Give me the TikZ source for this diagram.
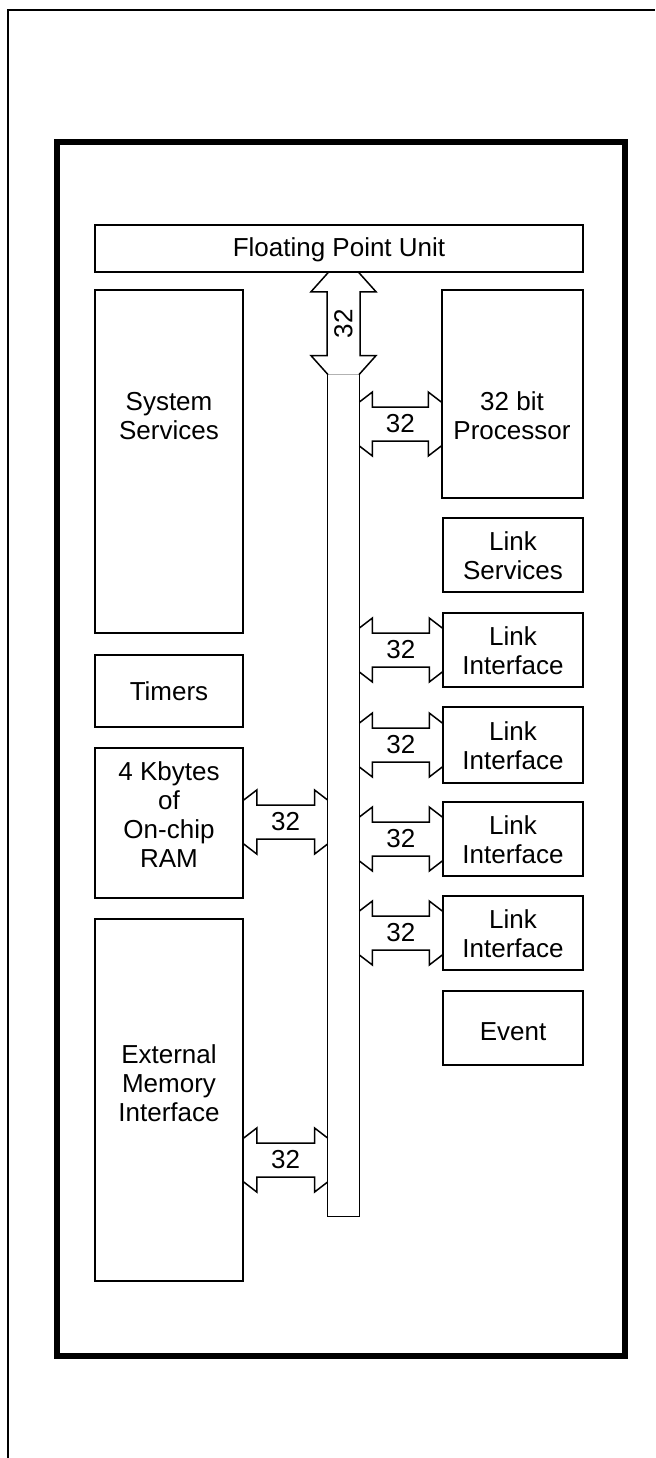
\documentclass[tikz,border=0pt]{standalone}
\usepackage{fontspec}
\setmainfont{Liberation Sans}
\usetikzlibrary{calc}
\tikzset{
  bxs/.style={draw, line width=0.75pt, inner sep=0pt, rectangle},
  txt/.style={inner sep=0pt, align=center, font=\fontsize{13}{14.5}\selectfont},
  arr/.style={draw, line width=0.75pt, line join=miter},
  lbl/.style={inner sep=0pt, font=\fontsize{13}{14.5}\selectfont},
}
% box: name, x1, y1, x2, y2  (pixel units, y downward)
\newcommand\bx[5]{\node[bxs, minimum width={(#4-#2)*0.5pt}, minimum height={(#5-#3)*0.5pt}] (#1) at ({(#2+#4)/2},{(#3+#5)/2}) {};}
% horizontal double block arrow: left node, right node, centre y, name
\newcommand\harr[4]{%
  \coordinate (#4c) at (0,#3);
  \coordinate (#4l) at (#1.east |- #4c);
  \coordinate (#4r) at (#2.west |- #4c);
  \draw[arr] ($(#4l)+(0,-22)$) -- ($(#4l)+(13,-32)$) -- ($(#4l)+(13,-17)$) -- ($(#4r)+(-13,-17)$) -- ($(#4r)+(-13,-32)$) -- ($(#4r)+(0,-22)$);
  \draw[arr] ($(#4l)+(0,22)$) -- ($(#4l)+(13,32)$) -- ($(#4l)+(13,17)$) -- ($(#4r)+(-13,17)$) -- ($(#4r)+(-13,32)$) -- ($(#4r)+(0,22)$);
  \node[lbl] (#4t) at ($(#4l)!0.5!(#4r)$) {32};
}
\begin{document}
\begin{tikzpicture}[x=0.5pt,y=-0.5pt]
\useasboundingbox (0,0) rectangle (655,1458);
% page frame
\coordinate (pgbl) at (8,1458);
\coordinate (pgtl) at (8,10);
\coordinate (pgtr) at (655,10);
\draw[line width=1pt] (pgbl) -- (pgtl) -- (pgtr);
% chip frame
\node[draw, line width=3pt, inner sep=0pt, minimum width={(625-57)*0.5pt}, minimum height={(1356-142)*0.5pt}] (chip) at ({(57+625)/2},{(142+1356)/2}) {};
% boxes
\bx{fpu}{95}{225}{583}{272}
\bx{ss}{95}{290}{243}{633}
\bx{proc}{442}{290}{583}{498}
\bx{ls}{443}{518}{583}{592}
\bx{lia}{443}{613}{583}{687}
\bx{lib}{443}{707}{583}{783}
\bx{lic}{443}{802}{583}{876}
\bx{lid}{443}{896}{583}{970}
\bx{ev}{443}{991}{583}{1065}
\bx{tim}{95}{655}{243}{727}
\bx{ram}{95}{748}{243}{898}
\bx{emi}{95}{919}{243}{1281}
% bus
\node[inner sep=0pt, minimum width={31*0.5pt}, minimum height={(1216-375)*0.5pt}] (bus) at ({(328+359)/2},{(375+1216)/2}) {};
\draw[line width=0.75pt] (bus.north west) -- (bus.south west) -- (bus.south east) -- (bus.north east);
\draw[line width=0.4pt, gray!60] (bus.north west) -- (bus.north east);
% texts
\node[txt] (tfpu) at (339,250) {Floating Point Unit};
\node[txt] (tss) at (169,416) {System\\Services};
\node[txt] (tproc) at (512,416) {32 bit\\Processor};
\node[txt] (tls) at (513,556) {Link\\Services};
\node[txt] (tlia) at (513,651) {Link\\Interface};
\node[txt] (tlib) at (513,746) {Link\\Interface};
\node[txt] (tlic) at (513,840) {Link\\Interface};
\node[txt] (tlid) at (513,934) {Link\\Interface};
\node[txt] (tev) at (513,1032) {Event};
\node[txt] (ttim) at (169,691) {Timers};
\node[txt] (tram) at (169,815) {4 Kbytes\\of\\On-chip\\RAM};
\node[txt] (temi) at (169,1083) {External\\Memory\\Interface};
% vertical arrow FPU <-> bus
\coordinate (vt) at (bus.north |- fpu.south);
\coordinate (vb) at (bus.north);
\draw[arr] ($(vt)+(-15.5,0)$) -- ($(vt)+(-32.5,19)$) -- ($(vt)+(-16.5,19)$) -- ($(vb)+(-16.5,-19)$) -- ($(vb)+(-32.5,-19)$) -- ($(vb)+(-15.5,0)$);
\draw[arr] ($(vt)+(15.5,0)$) -- ($(vt)+(32.5,19)$) -- ($(vt)+(16.5,19)$) -- ($(vb)+(16.5,-19)$) -- ($(vb)+(32.5,-19)$) -- ($(vb)+(15.5,0)$);
\node[lbl, rotate=90] (vtt) at ($(vt)!0.5!(vb)$) {32};
% horizontal arrows
\harr{bus}{proc}{424}{ap}
\harr{bus}{lia}{650}{a1}
\harr{bus}{lib}{745}{a2}
\harr{bus}{lic}{839}{a3}
\harr{bus}{lid}{933}{a4}
\harr{ram}{bus}{822}{ar}
\harr{emi}{bus}{1160}{ae}
\end{tikzpicture}
\end{document}
